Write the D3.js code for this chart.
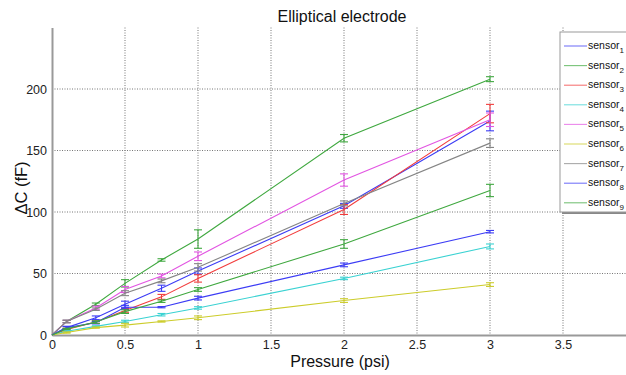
<!DOCTYPE html>
<html>
<head>
<meta charset="utf-8">
<script src="https://cdn.jsdelivr.net/npm/d3@7"></script>
<style>
  body { margin: 0; background: #fff; overflow: hidden; }
  text { font-family: "Liberation Sans", Arial, sans-serif; fill: #111; }
</style>
</head>
<body>
<script>
// pressure levels (psi)
var pressure = [0, 0.1, 0.3, 0.5, 0.75, 1, 2, 3];

var sensorNames = ["1", "2", "3", "4", "5", "6", "7", "8", "9"];

// delta C (fF) per sensor
var sensor1 = [0, 6, 14, 25, 38, 52, 105, 174];
var sensor2 = [0, 11, 25, 42, 61, 78, 160, 208];
var sensor3 = [0, 4.5, 10.5, 20, 31, 46, 102, 180];
var sensor4 = [0, 3, 7, 11, 16.5, 22, 46, 72];
var sensor5 = [0, 11, 22, 37, 48, 64, 126, 175];
var sensor6 = [0, 2, 6, 8, 11, 14, 28, 41];
var sensor7 = [0, 11, 21, 34, 44, 55, 107, 156];
var sensor8 = [0, 6, 10, 22.6, 22.6, 30, 57, 84];
var sensor9 = [0, 5, 10.5, 19, 27.5, 37, 74, 117.5];

// error bar half-heights
var err1 = [0, 1, 1.5, 2.5, 2.5, 2.5, 2, 8];
var err2 = [0, 1, 1, 3, 1, 7.5, 3, 2];
var err3 = [0, 1, 1, 1.5, 2, 3, 4, 7.5];
var err4 = [0, 0.5, 0.5, 1, 1, 1, 1, 2];
var err5 = [0, 1, 1.5, 2.5, 1.5, 3.5, 5, 5.5];
var err6 = [0, 0.5, 0.5, 1.5, 0.5, 1.5, 1.5, 1.5];
var err7 = [0, 1, 1, 2, 1.5, 3, 2, 3.5];
var err8 = [0, 1, 1, 1.5, 0.5, 1.5, 1.5, 1];
var err9 = [0, 0.5, 1, 1.5, 1, 1.5, 3.5, 5];

var xTicks = [0, 0.5, 1, 1.5, 2, 2.5, 3, 3.5];
var yTicks = [0, 50, 100, 150, 200];

var colors = ["#3c3cf5", "#3fa83f", "#f23c3c", "#3ad2d2", "#e255e2", "#cccc2a", "#858585", "#3c3cf5", "#3fa83f"];

var values = [sensor1, sensor2, sensor3, sensor4, sensor5, sensor6, sensor7, sensor8, sensor9];
var errors = [err1, err2, err3, err4, err5, err6, err7, err8, err9];

var series = values.map(function(v, i) {
  return {
    name: sensorNames[i],
    color: colors[i],
    points: pressure.map(function(p, j) { return { x: p, y: v[j], e: errors[i][j] }; })
  };
});

var width = 626, height = 375;
var svg = d3.select('body').append('svg')
  .attr('width', width)
  .attr('height', height);

var x = d3.scaleLinear().domain([0, 4]).range([52, 636]);
var y = d3.scaleLinear().domain([0, 250]).range([335, 27.5]);

// grid
var grid = svg.append("g")
  .style("stroke", "#777")
  .style("stroke-dasharray", "1,1.5")
  .style("stroke-width", 1);

grid.selectAll("line.v")
  .data(xTicks.slice(1))
  .enter().append("line")
    .attr("x1", function(d) { return x(d); })
    .attr("x2", function(d) { return x(d); })
    .attr("y1", y(250))
    .attr("y2", y(0));

grid.selectAll("line.h")
  .data(yTicks.slice(1))
  .enter().append("line")
    .attr("x1", x(0))
    .attr("x2", x(4))
    .attr("y1", function(d) { return y(d); })
    .attr("y2", function(d) { return y(d); });

// axes
var xAxis = svg.append("g")
  .attr("transform", "translate(0," + y(0) + ")")
  .call(d3.axisBottom(x).tickValues(xTicks).tickSize(0).tickPadding(5).tickFormat(d3.format("")));
var yAxis = svg.append("g")
  .attr("transform", "translate(" + x(0) + ",0)")
  .call(d3.axisLeft(y).tickValues(yTicks).tickSize(0).tickPadding(5));

[xAxis, yAxis].forEach(function(a) {
  a.select(".domain").style("stroke", "#999").style("stroke-width", 2);
  a.selectAll("text").style("font-size", "12.5px").style("fill", "#222")
    .style("font-family", "Liberation Sans, Arial, sans-serif");
});

// lines
var line = d3.line()
  .x(function(d) { return x(d.x); })
  .y(function(d) { return y(d.y); });

var capW = 4;
var gSeries = svg.append("g").selectAll("g")
  .data(series)
  .enter().append("g")
    .style("stroke", function(d) { return d.color; })
    .style("stroke-width", 1.1)
    .style("fill", "none");

gSeries.append("path")
  .attr("d", function(d) { return line(d.points); });

gSeries.each(function(s) {
  var g = d3.select(this);
  var pts = s.points.filter(function(p) { return p.x > 0; });
  g.selectAll("line.bar").data(pts).enter().append("line")
    .attr("x1", function(p) { return x(p.x); })
    .attr("x2", function(p) { return x(p.x); })
    .attr("y1", function(p) { return y(p.y - p.e); })
    .attr("y2", function(p) { return y(p.y + p.e); });
  g.selectAll("line.lo").data(pts).enter().append("line")
    .attr("x1", function(p) { return x(p.x) - capW; })
    .attr("x2", function(p) { return x(p.x) + capW; })
    .attr("y1", function(p) { return y(p.y - p.e); })
    .attr("y2", function(p) { return y(p.y - p.e); });
  g.selectAll("line.hi").data(pts).enter().append("line")
    .attr("x1", function(p) { return x(p.x) - capW; })
    .attr("x2", function(p) { return x(p.x) + capW; })
    .attr("y1", function(p) { return y(p.y + p.e); })
    .attr("y2", function(p) { return y(p.y + p.e); });
});

// title and labels
svg.append("text")
  .attr("x", 342).attr("y", 22)
  .attr("text-anchor", "middle")
  .style("font-size", "16px")
  .text("Elliptical electrode");

svg.append("text")
  .attr("x", 340).attr("y", 367)
  .attr("text-anchor", "middle")
  .style("font-size", "16px")
  .text("Pressure (psi)");

svg.append("text")
  .attr("transform", "translate(27,188) rotate(-90)")
  .attr("text-anchor", "middle")
  .style("font-size", "16.5px")
  .text("ΔC (fF)");

// legend
var legend = svg.append("g").attr("transform", "translate(560,32)");
legend.append("rect")
  .attr("x", 2).attr("y", 2).attr("width", 80).attr("height", 180)
  .style("fill", "#888");
legend.append("rect")
  .attr("width", 80).attr("height", 180)
  .style("fill", "#fff").style("stroke", "#999").style("stroke-width", 1);

var item = legend.selectAll("g.item")
  .data(series)
  .enter().append("g")
    .attr("transform", function(d, i) { return "translate(0," + (14 + i * 19.6) + ")"; });

item.append("line")
  .attr("x1", 4).attr("x2", 27).attr("y1", 0).attr("y2", 0)
  .style("stroke", function(d) { return d.color; })
  .style("stroke-opacity", 0.7)
  .style("stroke-width", 1.1);

var lt = item.append("text")
  .attr("x", 28).attr("y", 3)
  .style("font-size", "10.5px");
lt.append("tspan").text("sensor");
lt.append("tspan").attr("dy", 4).style("font-size", "8px").text(function(d) { return d.name; });
</script>
</body>
</html>
